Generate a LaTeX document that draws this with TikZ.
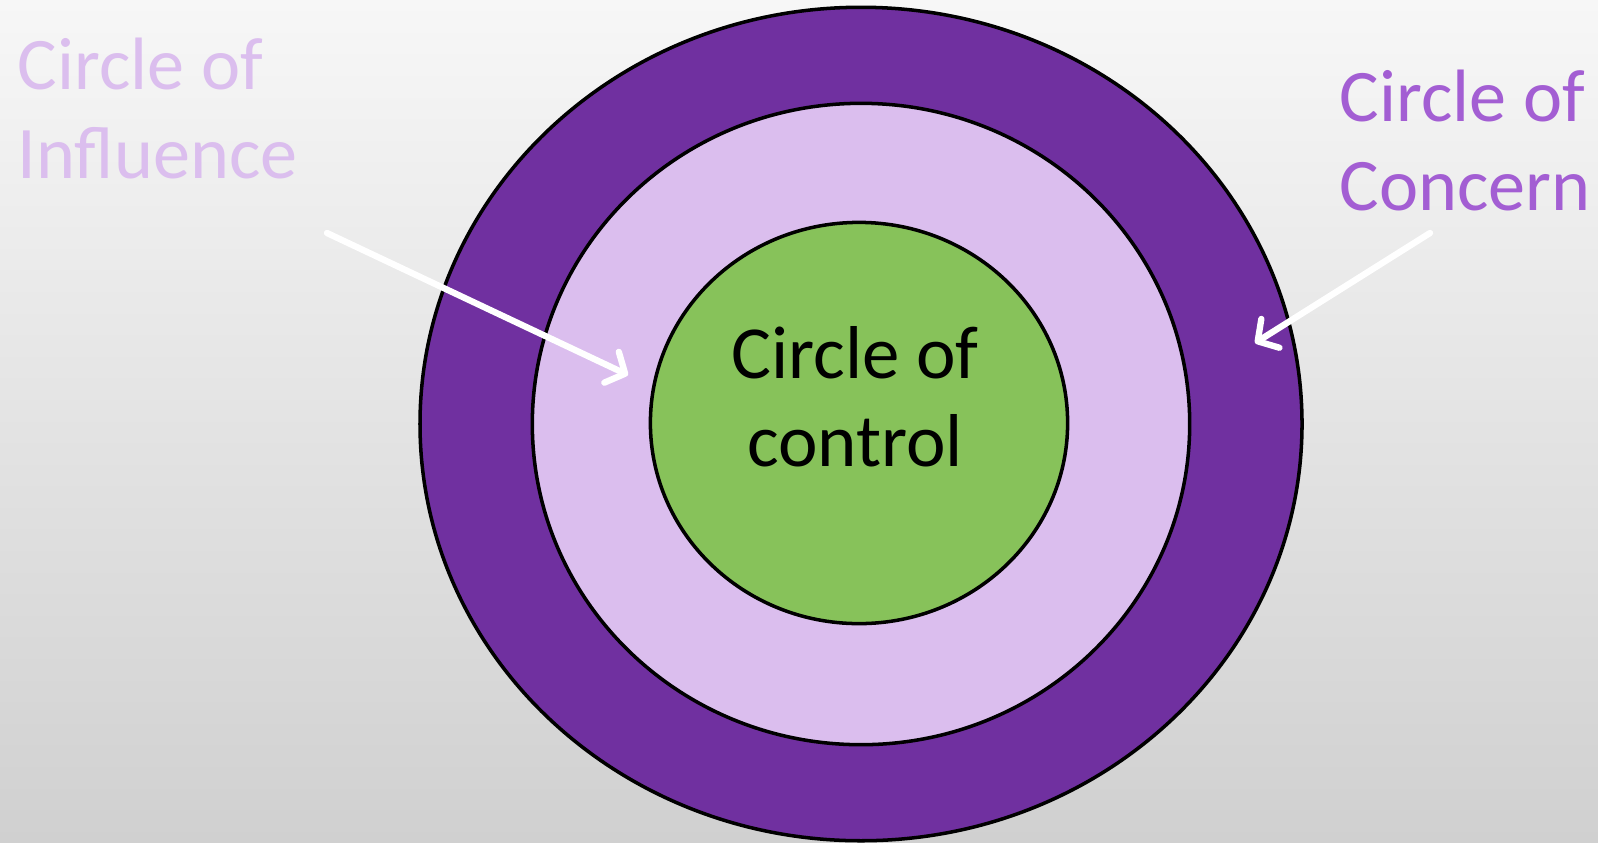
\documentclass[tikz,border=0pt]{standalone}
\usepackage{fontspec}
\setmainfont{Carlito}
\usepackage{xcolor}
\usetikzlibrary{arrows.meta,shapes.geometric}

\definecolor{bgtop}{HTML}{F7F7F7}
\definecolor{bgbot}{HTML}{D0D0D0}
\definecolor{concernfill}{HTML}{7030A0}
\definecolor{influencefill}{HTML}{DBBEEE}
\definecolor{controlfill}{HTML}{87C25A}
\definecolor{concerntext}{HTML}{A35ED3}

\begin{document}
\begin{tikzpicture}[x=0.01cm, y=-0.01cm,
    ring/.style={ellipse, draw=black, line width=1pt, inner sep=0pt},
    side/.style={inner sep=0pt, anchor=north west, align=left,
      font=\fontsize{21.1}{25.3}\selectfont},
    pointer/.style={draw=white, line width=1.8pt, line cap=round,
      -{Straight Barb[length=1.5mm, width=3.4mm, line width=1.8pt, round]}}]
    % background
    \shade[top color=bgtop, bottom color=bgbot] (0,0) rectangle (1598,842);
    \useasboundingbox (0,0) rectangle (1598,842);

    % the three circles
    \node[ring, fill=concernfill, minimum width=8.815cm, minimum height=8.33cm] (concern) at (861,424) {};
    \node[ring, fill=influencefill, minimum width=6.57cm, minimum height=6.41cm] (influence) at (861,424) {};
    \node[ring, fill=controlfill, minimum width=4.17cm, minimum height=4.01cm] (control) at (859,423) {};

    \node[align=center, inner sep=0pt, font=\fontsize{21.3}{25}\selectfont] (controltext) at (855,397) {Circle of\\control};

    % labels
    \node[side, text=influencefill] (influencetext) at (17,37) {Circle of\\Influence};
    \node[side, text=concerntext] (concerntxt) at (1339,69) {Circle of\\Concern};

    % arrows
    \coordinate (inftail) at (327,233);
    \coordinate (infhead) at (628,375);
    \coordinate (contail) at (1430,233);
    \coordinate (conhead) at (1255,343);
    \draw[pointer] (inftail) -- (infhead);
    \draw[pointer] (contail) -- (conhead);
  \end{tikzpicture}
\end{document}
